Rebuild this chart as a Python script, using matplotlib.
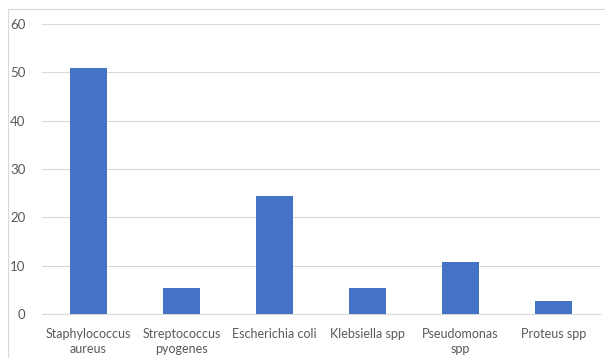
import matplotlib as mpl
import matplotlib.pyplot as plt
from matplotlib.patches import Rectangle

organisms = [ 'Staphylococcus\naureus', 'Streptococcus\npyogenes', 'Escherichia coli',
              'Klebsiella spp', 'Pseudomonas\nspp', 'Proteus spp' ]
percent = [ 51.0, 5.4, 24.4, 5.4, 10.8, 2.7 ]
y_ticks = [ 0, 10, 20, 30, 40, 50, 60 ]

mpl.rcParams.update({
  'font.family': [ 'Lato', 'DejaVu Sans' ],
  'font.size': 9
})

text_grey = '#595959'
grid_grey = '#d9d9d9'

fig = plt.figure( figsize = ( 6.05, 3.58 ), dpi = 100 )

# light chart-area border
fig.patches.append( Rectangle( ( 8 / 605, -0.05 ), 1.2, 1 - 9 / 358 + 0.05,
                               transform = fig.transFigure, fill = False,
                               edgecolor = grid_grey, linewidth = 0.8 ) )

ax = fig.add_axes( [ 42 / 605, 1 - 314 / 358, 558 / 605, 290 / 358 ] )

x = range( len( organisms ) )
ax.bar( x, percent, width = 0.4, color = '#4472c4', zorder = 3 )

ax.set_xlim( -0.5, len( organisms ) - 0.5 )
ax.set_ylim( 0, 60 )
ax.set_yticks( y_ticks )
ax.set_xticks( list( x ) )
ax.set_xticklabels( organisms, color = text_grey, linespacing = 1.3 )
ax.tick_params( axis = 'y', colors = text_grey, length = 0, pad = 12, labelsize = 9.5 )
ax.tick_params( axis = 'x', length = 0, pad = 10 )

ax.grid( axis = 'y', color = grid_grey, linewidth = 0.8, zorder = 0 )
for side in [ 'top', 'right', 'left' ]:
  ax.spines[ side ].set_visible( False )
ax.spines[ 'bottom' ].set_color( grid_grey )
ax.spines[ 'bottom' ].set_linewidth( 0.8 )

fig.savefig( 'out.png', dpi = 100 )
